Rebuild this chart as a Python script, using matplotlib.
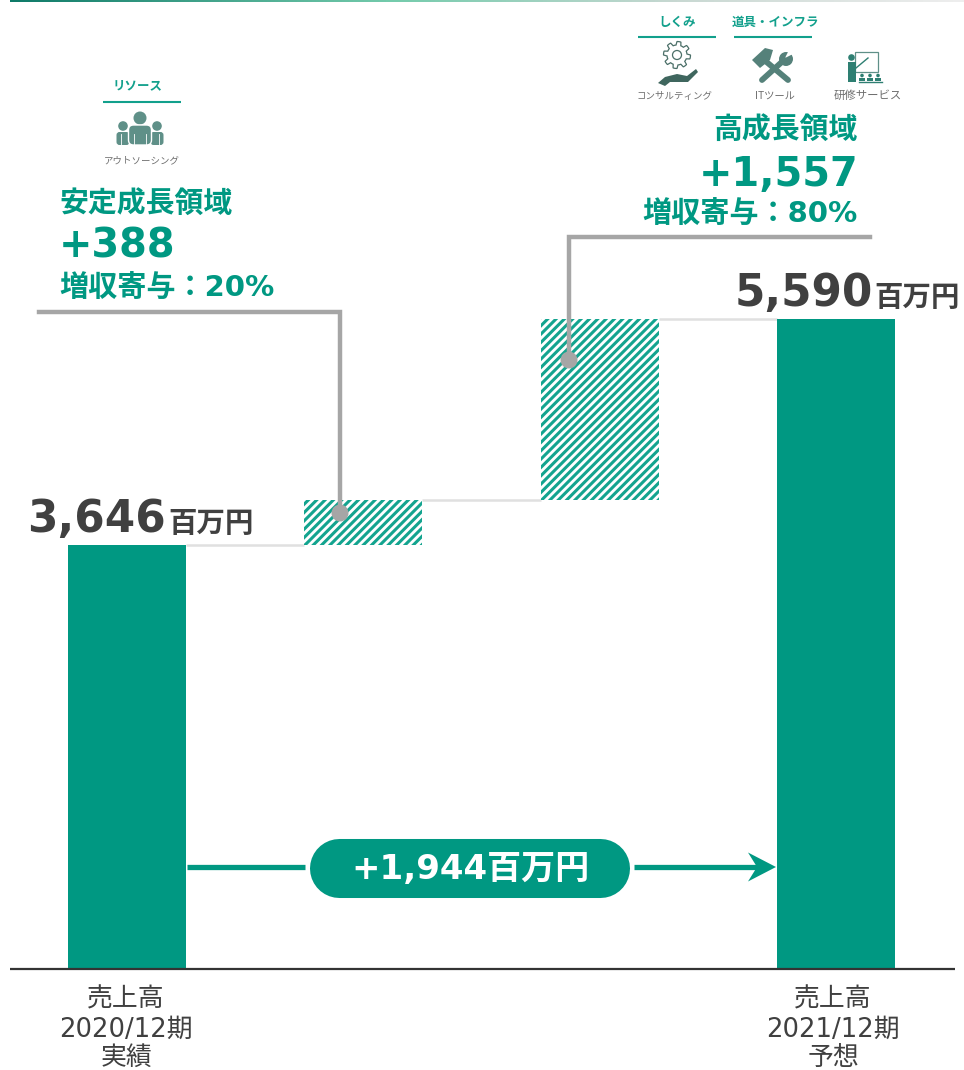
import numpy as np
import matplotlib
matplotlib.use("Agg")
import matplotlib.pyplot as plt
from matplotlib.colors import LinearSegmentedColormap
from matplotlib.patches import Circle, FancyBboxPatch, Polygon, Rectangle

#売上高の推移 (百万円)
sales_start = 3646
stable_growth = 388
high_growth = 1557
sales_end = 5590
total_increase = 1944
stable_share = 20
high_share = 80

bar_pos = [0, 1, 2, 3]
axis_labels_left = ["売上高", "2020/12期", "実績"]
axis_labels_right = ["売上高", "2021/12期", "予想"]

GREEN = "#009882"
HATCH = "#13a48f"
DARK = "#404040"
GREY = "#a6a6a6"
STEP = "#e0e0e0"

JP_BOLD = ["DejaVu Sans", "Noto Sans CJK JP"]
JP = ["Noto Sans CJK JP", "DejaVu Sans"]

W, H = 964, 1070
plt.rcParams["hatch.linewidth"] = 2.2

fig = plt.figure(figsize=(W / 100, H / 100), dpi=100)

# 棒グラフ本体
ax = fig.add_axes([0, 0, 1, 1])
px_per_bar = 236.4
px_per_unit = 424 / sales_start
ax.set_xlim(-127 / px_per_bar, (W - 127) / px_per_bar)
ax.set_ylim(-(H - 969) / px_per_unit, 969 / px_per_unit)
ax.axis("off")

bar_w = 118 / px_per_bar
ax.bar([bar_pos[0], bar_pos[3]], [sales_start, sales_end], width=bar_w, color=GREEN, zorder=2)
ax.bar(bar_pos[1], stable_growth, bottom=sales_start, width=bar_w, color="white",
       edgecolor=HATCH, hatch="////", linewidth=0, zorder=2)
ax.bar(bar_pos[2], high_growth, bottom=sales_start + stable_growth, width=bar_w, color="white",
       edgecolor=HATCH, hatch="////", linewidth=0, zorder=2)

# 棒の間をつなぐ線
levels = [sales_start, sales_start + stable_growth, sales_end]
for i, level in enumerate(levels):
    ax.plot([bar_pos[i] + bar_w / 2, bar_pos[i + 1] - bar_w / 2], [level, level],
            color=STEP, lw=1.8, solid_capstyle="butt", zorder=1)

# 注釈やアイコンはピクセル座標のオーバーレイに描く
ov = fig.add_axes([0, 0, 1, 1])
ov.axis("off")
ov.patch.set_alpha(0)

# 上端のグラデーション
cmap = LinearSegmentedColormap.from_list(
    "band", [(0, "#0e7a68"), (0.4, "#74cbac"), (0.7, "#c8d8d2"), (1, "#eeeeee")])
ov.imshow(np.linspace(0, 1, 256).reshape(1, -1), extent=(10, W, 2, 0), cmap=cmap, aspect="auto")
ov.set_xlim(0, W)
ov.set_ylim(H, 0)

# 基準線
ov.plot([10, 955], [969, 969], color="#333333", lw=1.6, solid_capstyle="butt")

# 吹き出しの引き出し線
ov.plot([39, 340, 340], [312, 312, 513], color=GREY, lw=3.2, solid_joinstyle="miter")
ov.add_patch(Circle((340, 513), 8.5, color=GREY, lw=0, zorder=5))
ov.plot([870, 569, 569], [237, 237, 360], color=GREY, lw=3.2, solid_joinstyle="miter")
ov.add_patch(Circle((569, 360), 8.5, color=GREY, lw=0, zorder=5))

# 増加額の矢印とラベル
ov.plot([187, 305], [867, 867], color=GREEN, lw=3.8, solid_capstyle="butt")
ov.plot([634, 760], [867, 867], color=GREEN, lw=3.8, solid_capstyle="butt")
ov.add_patch(Polygon([(776, 867), (748, 852.5), (757, 867), (748, 881.5)], closed=True, color=GREEN, lw=0))
# 太い線の丸端でピル型にする
ov.plot([338.5, 599.5], [867.5, 867.5], color=GREEN, lw=42.5, solid_capstyle="round")
ov.text(470, 870, f"+{total_increase:,}百万円", color="white", fontsize=24.5, fontweight="bold",
        family=JP_BOLD, ha="center", va="center")


def value_label(x_num, x_unit, y, value):
    ov.text(x_num, y, f"{value:,}", color=DARK, fontsize=31.5, fontweight="bold",
            family=JP_BOLD, ha="left", va="baseline")
    ov.text(x_unit, y, "百万円", color=DARK, fontsize=20.5, fontweight="bold",
            family=JP_BOLD, ha="left", va="baseline")


value_label(27, 168, 532, sales_start)
value_label(735, 874, 306, sales_end)


def growth_block(x, ha, y_title, y_value, y_share, title, value, share):
    ov.text(x, y_title, title, color=GREEN, fontsize=20.8, fontweight="bold",
            family=JP_BOLD, ha=ha, va="baseline")
    ov.text(x, y_value, f"+{value:,}", color=GREEN, fontsize=28.7, fontweight="bold",
            family=JP_BOLD, ha=ha, va="baseline")
    ov.text(x, y_share, f"増収寄与：{share}%", color=GREEN, fontsize=21, fontweight="bold",
            family=JP_BOLD, ha=ha, va="baseline")


growth_block(59, "left", 212, 258, 297, "安定成長領域", stable_growth, stable_share)
growth_block(858, "right", 138, 186, 223, "高成長領域", high_growth, high_share)

# 軸ラベル
for x, rows in [(126, axis_labels_left), (833, axis_labels_right)]:
    for y, row in zip([999, 1030, 1058], rows):
        ov.text(x, y, row, color=DARK, fontsize=18.6, family=["DejaVu Sans", "Noto Sans CJK JP"],
                ha="center", va="center")


# 分類の見出し
def heading(text, x, y, x0, x1, y_line):
    ov.text(x, y, text, color="#12a08c", fontsize=9, fontweight="bold", family=JP, ha="center", va="center")
    ov.plot([x0, x1], [y_line, y_line], color="#12a08c", lw=1.5, solid_capstyle="butt")


heading("リソース", 138, 86, 103, 181, 102)
heading("しくみ", 677, 22, 638, 716, 37)
heading("道具・インフラ", 775, 22, 734, 812, 37)

for x, y, text, size in [(142, 161, "アウトソーシング", 6.8), (675, 96, "コンサルティング", 6.8),
                         (775, 96, "ITツール", 7.4), (868, 96, "研修サービス", 8.2)]:
    ov.text(x, y, text, color="#6e6e6e", fontsize=size, family=JP, ha="center", va="center")


# アイコン: 人物3人
def people_icon(cx, cy):
    c = "#5f9088"
    for dx in [-17, 17]:
        ov.add_patch(Circle((cx + dx, cy - 4), 4.8, color=c, lw=0))
        ov.add_patch(FancyBboxPatch((cx + dx - 6.5, cy + 2), 13, 13, boxstyle="round,pad=0,rounding_size=3",
                                    color=c, lw=0))
    ov.add_patch(Circle((cx, cy - 12), 6.5, color=c, lw=0))
    ov.add_patch(FancyBboxPatch((cx - 11.5, cy - 5), 23, 20, boxstyle="round,pad=0,rounding_size=5",
                                ec="white", fc=c, lw=1))
    for dx in [-6, 6, -19, 19]:
        ov.plot([cx + dx, cx + dx], [cy + 4, cy + 15], color="white", lw=0.6)


# アイコン: 歯車と手
def gear_icon(cx, cy):
    angles = np.linspace(0, 2 * np.pi, 64, endpoint=False)
    radii = np.where((np.arange(64) % 8) < 4, 13.5, 10)
    ov.add_patch(Polygon(np.c_[cx + radii * np.cos(angles), cy + radii * np.sin(angles)],
                         closed=True, fc="white", ec="#4b6f68", lw=0.9))
    ov.add_patch(Circle((cx, cy), 4.5, fc="white", ec="#4b6f68", lw=0.9))
    hand = [(658, 83), (665, 77), (677, 74), (687, 76), (696, 69), (698, 72),
            (688, 82), (670, 82), (665, 86)]
    ov.add_patch(Polygon(hand, closed=True, color="#3f665e", lw=0))


# アイコン: ハンマーとレンチ
def tools_icon():
    c = "#55817a"
    ov.plot([763, 788], [59, 80], color=c, lw=4.2, solid_capstyle="round")
    ov.add_patch(Polygon([(752, 60), (765, 48), (773, 50), (770, 60), (760, 68)], closed=True, color=c, lw=0))
    ov.plot([762, 784], [80, 60], color=c, lw=4.2, solid_capstyle="round")
    ov.add_patch(Circle((786, 59), 7, color=c, lw=0))
    ov.add_patch(Polygon([(785, 58), (791, 46), (797, 52)], closed=True, color="white", lw=0))


# アイコン: 研修の講師と受講者
def teacher_icon():
    c = "#2e7f72"
    ov.add_patch(Rectangle((855, 52), 23, 20, fc="white", ec="#5f9088", lw=0.9))
    ov.add_patch(Circle((851.5, 57.5), 3.3, color=c, lw=0))
    ov.add_patch(Rectangle((848, 62), 8, 20, color=c, lw=0))
    ov.plot([856, 868], [68, 58], color=c, lw=1)
    for x in [862, 870, 878]:
        ov.add_patch(Circle((x, 75.5), 1.8, color=c, lw=0))
        ov.add_patch(Rectangle((x - 3, 78), 6, 2.5, color=c, lw=0))
    ov.plot([859, 882], [82, 82], color=c, lw=1)


people_icon(140, 130)
gear_icon(677, 55)
tools_icon()
teacher_icon()

fig.savefig("out.png", dpi=100)
plt.close(fig)
